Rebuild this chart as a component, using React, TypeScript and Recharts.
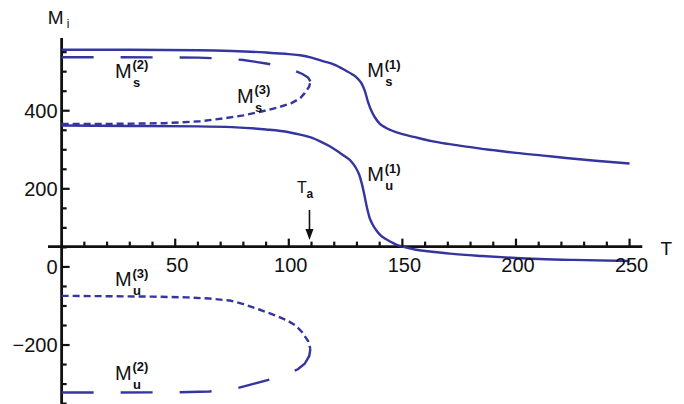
import React from 'react';
import { LineChart, Line, XAxis, YAxis, ReferenceLine, ReferenceDot } from 'recharts';

// ---------- data (T, M) ----------
const msOne = [
  [0, 556], [30, 556], [60, 555], [75, 553], [90, 549], [100, 545], [105, 542], [110, 536],
  [115, 527], [120, 518], [125, 503], [128, 493], [130, 484], [132, 470], [133.5, 450],
  [135, 420], [136.5, 398], [138, 382], [140, 367], [142.5, 357], [145, 350], [150, 340],
  [155, 333], [163, 322], [170, 315], [178, 308], [190, 299], [200, 292], [212, 285],
  [222, 279], [235, 272], [250, 265],
].map(([T, M]) => ({ T, M }));

const muOne = [
  [0, 362], [30, 361], [60, 360], [75, 358], [90, 352], [100, 345], [105, 339], [110, 331],
  [114, 321], [118, 309], [122, 294], [125, 282], [127.5, 270], [129.5, 254], [131, 236],
  [132.2, 212], [133.2, 186], [134.4, 152], [135.5, 127], [136.6, 112], [138.5, 94],
  [140.2, 82], [142.5, 72], [144.6, 65], [147, 58], [150, 52], [156, 44], [163, 39],
  [171, 34], [185, 28], [200, 23], [225, 18], [250, 15],
].map(([T, M]) => ({ T, M }));

const msTwo = [
  [0, 537], [20, 537], [40, 536.5], [60, 536], [70, 534], [80, 530], [90, 521], [96, 514],
  [102, 504], [106, 494], [108.5, 485], [109.5, 475],
].map(([T, M]) => ({ T, M }));

const msThree = [
  [0, 366], [25, 366.5], [45, 368], [61, 373], [72, 381], [80, 388], [88, 398], [95, 408],
  [101, 419], [105, 432], [107, 445], [109, 462], [109.5, 475],
].map(([T, M]) => ({ T, M }));

const muThree = [
  [0, -74], [20, -75], [40, -76], [55, -78], [65, -81], [74, -86], [80, -95], [87, -109],
  [94, -124], [99, -136], [103, -150], [106, -168], [108.5, -190], [109.5, -210],
].map(([T, M]) => ({ T, M }));

const muTwo = [
  [0, -321.5], [25, -321.5], [50, -321], [65, -319], [77, -311], [84, -300], [91, -289],
  [99, -275], [104, -262], [107, -248], [109, -228], [109.5, -210],
].map(([T, M]) => ({ T, M }));

const xMajorTicks = [50, 100, 150, 200, 250];
const xTickLabels = ['50', '100', '150', '200', '250'];
const xMinorTicks = [10, 20, 30, 40, 60, 70, 80, 90, 110, 120, 130, 140, 160, 170, 180, 190, 210, 220, 230, 240];
const yMajorTicks = [-200, 0, 200, 400];
const yTickLabels = ['\u2212200', '0', '200', '400'];
const yMinorTicks = [-350, -300, -250, -150, -100, -50, 50, 100, 150, 250, 300, 350, 450, 500, 550];

const curveLabels = [
  { T: 134.5, M: 486, sup: '(1)', sub: 's' },
  { T: 134.5, M: 220, sup: '(1)', sub: 'u' },
  { T: 23.5, M: 484, sup: '(2)', sub: 's' },
  { T: 77.2, M: 420, sup: '(3)', sub: 's' },
  { T: 23.5, M: -49, sup: '(3)', sub: 'u' },
  { T: 23.5, M: -289, sup: '(2)', sub: 'u' },
];

const AXIS_CROSS_M = 52;
const T_A = 109.1;
const arrowFrom = 146;
const arrowTo = 69;

// ---------- styles ----------
const BLUE = '#3535a0';
const INK = '#111111';
const FONT = '"Liberation Sans", Arial, Helvetica, sans-serif';
const X_DOMAIN = [-6, 270];
const Y_DOMAIN = [-351, 640];
const X_AXIS_END = 255.6;
const Y_AXIS_TOP = 586;
const MAJOR_PX = 8;
const MINOR_PX = 5;
const LW = 2.4;

const MathLabel = (p: any, sup: string, sub: string) => (
  <g fontFamily={FONT} fill={INK}>
    <text x={p.cx} y={p.cy} fontSize={20}>M</text>
    <text x={p.cx + 17.5} y={p.cy - 8.5} fontSize={13} fontWeight="bold">{sup}</text>
    <text x={p.cx + 18} y={p.cy + 9} fontSize={13} fontWeight="bold">{sub}</text>
  </g>
);

const Arrow = (p: any) => (
  <g>
    <line x1={p.x1} y1={p.y1} x2={p.x2} y2={p.y2 - 9} stroke={INK} strokeWidth={1.6} />
    <polygon points={`${p.x2 - 4},${p.y2 - 11} ${p.x2 + 4},${p.y2 - 11} ${p.x2},${p.y2}`} fill={INK} />
  </g>
);

const xTick = (len: number) => (p: any) => (
  <path d={`M${p.cx},${p.cy} V${p.cy - len}`} stroke={INK} strokeWidth={2.2} fill="none" />
);
const yTick = (len: number) => (p: any) => (
  <path d={`M${p.cx},${p.cy} H${p.cx + len}`} stroke={INK} strokeWidth={2.2} fill="none" />
);

export default function App() {
  return (
    <LineChart
      width={676}
      height={396}
      margin={{ top: 9, right: 9, bottom: 0, left: 40 }}
    >
      <XAxis type="number" dataKey="T" domain={X_DOMAIN} allowDataOverflow hide />
      <YAxis type="number" dataKey="M" domain={Y_DOMAIN} allowDataOverflow hide />

      {/* axes */}
      <ReferenceLine segment={[{ x: 0, y: Y_DOMAIN[0] }, { x: 0, y: Y_AXIS_TOP }]} stroke={INK} strokeWidth={2.8} />
      <ReferenceLine segment={[{ x: X_DOMAIN[0], y: AXIS_CROSS_M }, { x: X_AXIS_END, y: AXIS_CROSS_M }]} stroke={INK} strokeWidth={2.6} />
      {xMajorTicks.map((t) => (
        <ReferenceDot key={'xM' + t} x={t} y={AXIS_CROSS_M} r={1} shape={xTick(MAJOR_PX)} />
      ))}
      {xMinorTicks.map((t) => (
        <ReferenceDot key={'xm' + t} x={t} y={AXIS_CROSS_M} r={1} shape={xTick(MINOR_PX)} />
      ))}
      {yMajorTicks.map((m) => (
        <ReferenceDot key={'yM' + m} x={0} y={m} r={1} shape={yTick(MAJOR_PX)} />
      ))}
      {yMinorTicks.map((m) => (
        <ReferenceDot key={'ym' + m} x={0} y={m} r={1} shape={yTick(MINOR_PX)} />
      ))}
      {xMajorTicks.map((t, i) => (
        <ReferenceDot
          key={'xl' + t}
          x={t}
          y={AXIS_CROSS_M}
          r={1}
          shape={(p: any) => (
            <text x={p.cx + 2} y={p.cy + 25} textAnchor="middle" fontSize={20} fontFamily={FONT} fill={INK}>
              {xTickLabels[i]}
            </text>
          )}
        />
      ))}
      {yMajorTicks.map((m, i) => (
        <ReferenceDot
          key={'yl' + m}
          x={0}
          y={m}
          r={1}
          shape={(p: any) => (
            <text x={p.cx - 4} y={p.cy + 7} textAnchor="end" fontSize={20} fontFamily={FONT} fill={INK}>
              {yTickLabels[i]}
            </text>
          )}
        />
      ))}
      <ReferenceDot
        x={0}
        y={621}
        r={1}
        shape={(p: any) => (
          <g fontFamily={FONT} fill={INK}>
            <text x={p.cx - 14} y={p.cy} fontSize={19}>M</text>
            <text x={p.cx + 5} y={p.cy + 4} fontSize={12}>i</text>
          </g>
        )}
      />
      <ReferenceDot
        x={263.6}
        y={30.7}
        r={1}
        shape={(p: any) => (
          <text x={p.cx} y={p.cy} fontSize={19} fontFamily={FONT} fill={INK}>T</text>
        )}
      />

      {/* series */}
      <Line data={msOne} dataKey="M" type="monotone" stroke={BLUE} strokeWidth={LW} dot={false} isAnimationActive={false} />
      <Line data={muOne} dataKey="M" type="monotone" stroke={BLUE} strokeWidth={LW} dot={false} isAnimationActive={false} />
      <Line data={msTwo} dataKey="M" type="linear" stroke={BLUE} strokeWidth={LW} strokeDasharray="32 27" dot={false} isAnimationActive={false} />
      <Line data={muTwo} dataKey="M" type="linear" stroke={BLUE} strokeWidth={LW} strokeDasharray="32 27" dot={false} isAnimationActive={false} />
      <Line data={msThree} dataKey="M" type="linear" stroke={BLUE} strokeWidth={LW} strokeDasharray="7 4" dot={false} isAnimationActive={false} />
      <Line data={muThree} dataKey="M" type="linear" stroke={BLUE} strokeWidth={LW} strokeDasharray="7 4" dot={false} isAnimationActive={false} />

      {/* annotations */}
      {curveLabels.map((l) => (
        <ReferenceDot
          key={l.sup + l.sub}
          x={l.T}
          y={l.M}
          r={1}
          shape={(p: any) => MathLabel(p, l.sup, l.sub)}
        />
      ))}
      <ReferenceLine segment={[{ x: T_A, y: arrowFrom }, { x: T_A, y: arrowTo }]} shape={Arrow} />
      <ReferenceDot
        x={103.6}
        y={189.5}
        r={1}
        shape={(p: any) => (
          <g fontFamily={FONT} fill={INK}>
            <text x={p.cx} y={p.cy} fontSize={16}>T</text>
            <text x={p.cx + 9.5} y={p.cy + 5} fontSize={12} fontWeight="bold">a</text>
          </g>
        )}
      />
    </LineChart>
  );
}
